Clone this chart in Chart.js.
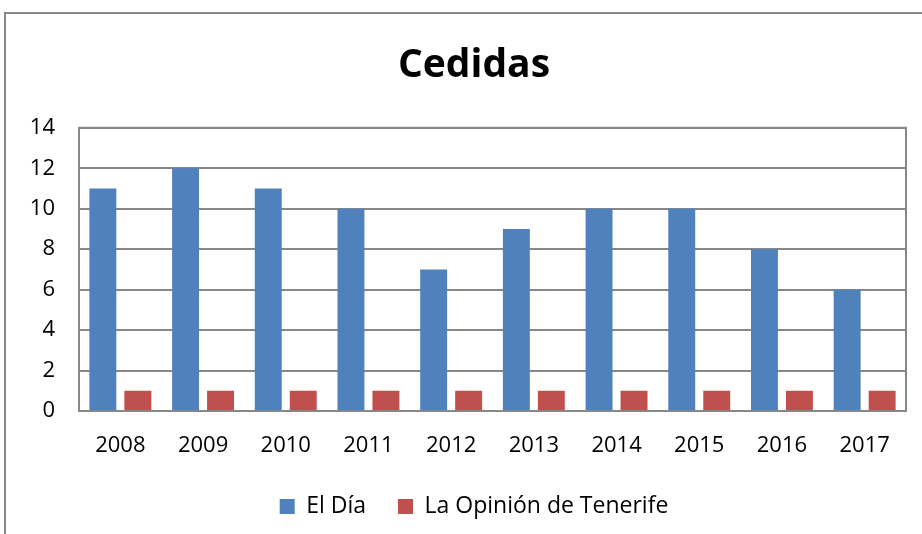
<!DOCTYPE html>
<html>
<head>
<meta charset="utf-8">
<script src="https://cdn.jsdelivr.net/npm/chart.js@4"></script>
<style>
  html, body { margin: 0; padding: 0; background: #fff; overflow: hidden; }
  #wrap { position: relative; width: 922px; height: 534px; overflow: hidden; }
</style>
</head>
<body>
<!-- the chart object runs past the right edge of the picture, so the canvas is wider than the window -->
<div id="wrap"><canvas id="chart" width="948" height="534"></canvas></div>
<script>
// data
var years = ['2008', '2009', '2010', '2011', '2012', '2013', '2014', '2015', '2016', '2017'];
var elDia = [11, 12, 11, 10, 7, 9, 10, 10, 8, 6];
var laOpinion = [1, 1, 1, 1, 1, 1, 1, 1, 1, 1];
var yTicks = [0, 2, 4, 6, 8, 10, 12, 14];

var FONT = '"Open Sans", Lato, sans-serif';
var GRID = '#878787';

// outer frame of the chart object and border of the plot area
var framePlugin = {
  id: 'frame',
  beforeDraw: function(chart) {
    var ctx = chart.ctx;
    ctx.save();
    ctx.strokeStyle = '#888888';
    ctx.lineWidth = 2;
    ctx.strokeRect(5, 13, 960, 560);
    ctx.restore();
  },
  afterDatasetsDraw: function(chart) {
    var a = chart.chartArea;
    var ctx = chart.ctx;
    ctx.save();
    ctx.strokeStyle = GRID;
    ctx.lineWidth = 2;
    ctx.strokeRect(a.left, a.top, a.right - a.left, a.bottom - a.top);
    ctx.restore();
  }
};

var chart = new Chart(document.getElementById('chart').getContext('2d'), {
  type: 'bar',
  data: {
    labels: years,
    datasets: [
      {
        label: 'El Día',
        data: elDia,
        backgroundColor: '#4F81BD',
        categoryPercentage: 0.846,
        barPercentage: 0.77
      },
      {
        label: 'La Opinión de Tenerife',
        data: laOpinion,
        backgroundColor: '#C0504D',
        categoryPercentage: 0.846,
        barPercentage: 0.77
      }
    ]
  },
  options: {
    responsive: false,
    animation: false,
    devicePixelRatio: 1,
    layout: { padding: { left: 0, right: 0, top: 0, bottom: 6 } },
    plugins: {
      title: {
        display: true,
        text: 'Cedidas',
        color: '#000',
        font: { family: FONT, size: 39, weight: 'bold' },
        padding: { top: 42, bottom: 39 }
      },
      legend: {
        position: 'bottom',
        labels: {
          color: '#000',
          font: { family: FONT, size: 23 },
          boxWidth: 15,
          boxHeight: 15,
          padding: 32
        }
      },
      tooltip: { enabled: false }
    },
    scales: {
      x: {
        grid: { display: false, drawTicks: false },
        border: { color: GRID, width: 2 },
        ticks: { color: '#000', font: { family: FONT, size: 22 }, padding: 22, maxRotation: 0 },
        afterFit: function(scale) { scale.height = 52; }
      },
      y: {
        min: 0,
        max: 14,
        afterBuildTicks: function(scale) {
          scale.ticks = yTicks.map(function(v) { return { value: v }; });
        },
        afterFit: function(scale) { scale.width = 79; },
        grid: { color: GRID, lineWidth: 2, drawTicks: false },
        border: { color: GRID, width: 2 },
        ticks: { color: '#000', font: { family: FONT, size: 22 }, padding: 24 }
      },
      // empty right axis: only keeps space between plot and frame edge
      yRight: {
        position: 'right',
        min: 0,
        max: 14,
        afterFit: function(scale) { scale.width = 42; },
        grid: { display: false, drawTicks: false },
        border: { display: false },
        ticks: { display: false }
      }
    }
  },
  plugins: [framePlugin]
});
</script>
</body>
</html>
